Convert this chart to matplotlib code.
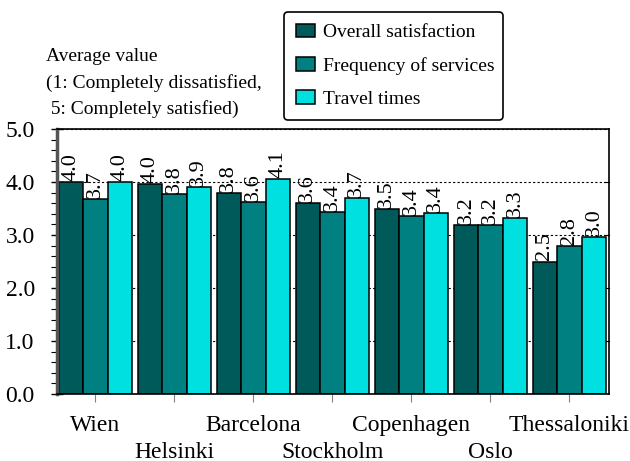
import matplotlib.pyplot as plt
import numpy as np
from matplotlib.ticker import MultipleLocator

# ---------------------------
# datos
# ---------------------------
cities = ["Wien", "Helsinki", "Barcelona", "Stockholm", "Copenhagen", "Oslo", "Thessaloniki"]
overall = [4.00, 3.96, 3.80, 3.60, 3.49, 3.18, 2.50]
frequency = [3.68, 3.77, 3.62, 3.43, 3.36, 3.18, 2.80]
travel = [4.00, 3.90, 4.06, 3.70, 3.42, 3.32, 2.97]
series_names = ["Overall satisfaction", "Frequency of services", "Travel times"]
colors = ["#005a5a", "#008080", "#00e0e0"]

plt.rcParams["font.family"] = ["Liberation Serif", "DejaVu Serif"]

fig = plt.figure(figsize=(6.3, 4.61), dpi=100)
ax = fig.add_axes([57 / 630, 1 - 394 / 461, 552 / 630, 265 / 461])

x = np.arange(len(cities))
w = 0.31
for i, (vals, name, c) in enumerate(zip([overall, frequency, travel], series_names, colors)):
    pos = x + (i - 1) * w
    ax.bar(pos, vals, width=w, color=c, edgecolor="black", linewidth=1.1, label=name, zorder=2)
    for p, v in zip(pos, vals):
        ax.text(p, v + 0.02, f"{v:.1f}", rotation=90, ha="center", va="bottom",
                fontsize=16, zorder=3)

ax.set_xlim(-0.485, 6.5)
ax.set_ylim(0, 5)
ax.yaxis.set_major_locator(MultipleLocator(1.0))
ax.yaxis.set_minor_locator(MultipleLocator(0.2))
ax.set_yticklabels([f"{t:.1f}" for t in ax.get_yticks()], fontsize=17)
ax.tick_params(axis="y", which="major", direction="inout", length=8, width=1, pad=12)
ax.tick_params(axis="y", which="minor", direction="out", length=4, width=0.8)
ax.tick_params(axis="y", which="both", right=False)
for t in [1, 2, 3, 4]:
    ax.plot([6.5 - 0.06, 6.5], [t, t], color="black", lw=0.8, zorder=1, clip_on=False)

# etiquetas del eje x en dos filas alternadas
ax.set_xticks(x)
ax.set_xticklabels([c if i % 2 == 0 else "" for i, c in enumerate(cities)], fontsize=17)
ax.tick_params(axis="x", direction="out", length=6, color="gray", pad=9)
for i, c in enumerate(cities):
    if i % 2 == 1:
        ax.text(i, -58 / 265, c, fontsize=17, ha="center", va="center",
                transform=ax.get_xaxis_transform())

ax.grid(axis="y", which="major", linestyle=(0, (2, 2)), color="black", linewidth=0.8, zorder=0)
ax.set_axisbelow(True)
ax.spines["left"].set_linewidth(2.5)
ax.spines["left"].set_color("#555555")
for s in ["top", "right", "bottom"]:
    ax.spines[s].set_linewidth(1.2)

fig.text(46 / 630, 1 - 83 / 461, "Average value\n(1: Completely dissatisfied,\n 5: Completely satisfied)",
         fontsize=14, va="center", ha="left", linespacing=1.6)

leg = ax.legend(loc="upper left", bbox_to_anchor=(284 / 630, 1 - 116 / 461, 219 / 630, 104 / 461),
                bbox_transform=fig.transFigure, fontsize=14, frameon=True, fancybox=True,
                edgecolor="black", handlelength=1.0, handleheight=0.7, handletextpad=0.4,
                labelspacing=0.8, borderpad=0.6, borderaxespad=0, mode="expand")
leg.get_frame().set_linewidth(1.2)
leg.get_frame().set_alpha(1)

fig.savefig("out.png", dpi=100)
